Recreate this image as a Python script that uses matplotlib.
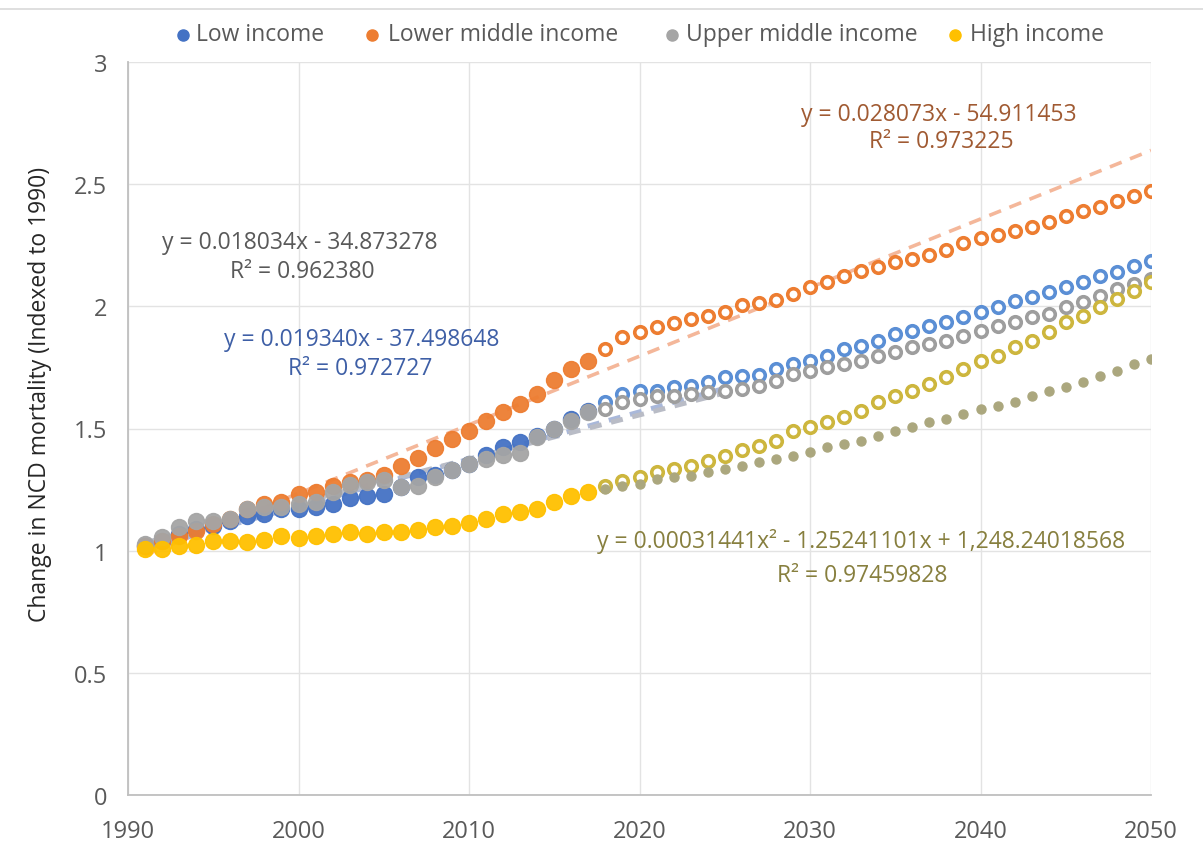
import matplotlib
matplotlib.use("Agg")
import matplotlib.pyplot as plt
from matplotlib.lines import Line2D
import numpy as np

plt.rcParams['font.family'] = ['Open Sans', 'DejaVu Sans']

years_obs = list(range(1991, 2018))
years_proj = list(range(2018, 2051))

low_obs = [1.02, 1.04, 1.07, 1.09, 1.10, 1.12, 1.14, 1.15, 1.17, 1.17, 1.18, 1.19, 1.215, 1.225, 1.23,
           1.26, 1.30, 1.31, 1.33, 1.355, 1.39, 1.425, 1.445, 1.47, 1.50, 1.54, 1.57]
low_proj = [1.61, 1.64, 1.655, 1.655, 1.67, 1.675, 1.69, 1.71, 1.715, 1.72, 1.745, 1.765, 1.777, 1.797,
            1.826, 1.838, 1.858, 1.887, 1.90, 1.92, 1.936, 1.957, 1.977, 1.997, 2.022, 2.04, 2.06, 2.08,
            2.10, 2.125, 2.14, 2.166, 2.186]

lmid_obs = [1.02, 1.04, 1.06, 1.08, 1.11, 1.13, 1.17, 1.19, 1.20, 1.23, 1.24, 1.265, 1.28, 1.29, 1.31,
            1.345, 1.38, 1.42, 1.457, 1.49, 1.53, 1.567, 1.60, 1.64, 1.70, 1.745, 1.777]
lmid_proj = [1.826, 1.875, 1.895, 1.915, 1.93, 1.95, 1.96, 1.977, 2.005, 2.015, 2.025, 2.05, 2.08, 2.10,
             2.125, 2.145, 2.16, 2.18, 2.195, 2.21, 2.23, 2.258, 2.278, 2.292, 2.309, 2.325, 2.345, 2.37,
             2.39, 2.407, 2.43, 2.452, 2.472]

umid_obs = [1.027, 1.056, 1.097, 1.12, 1.12, 1.13, 1.17, 1.18, 1.18, 1.19, 1.20, 1.24, 1.27, 1.28, 1.29,
            1.26, 1.265, 1.30, 1.33, 1.355, 1.375, 1.39, 1.40, 1.465, 1.50, 1.53, 1.567]
umid_proj = [1.58, 1.61, 1.62, 1.635, 1.635, 1.64, 1.65, 1.655, 1.66, 1.675, 1.695, 1.723, 1.736, 1.75,
             1.764, 1.777, 1.797, 1.813, 1.834, 1.846, 1.858, 1.879, 1.90, 1.92, 1.936, 1.957, 1.969,
             1.997, 2.018, 2.043, 2.07, 2.09, 2.11]

high_obs = [1.005, 1.007, 1.02, 1.023, 1.04, 1.04, 1.035, 1.044, 1.06, 1.05, 1.06, 1.068, 1.077, 1.068,
            1.077, 1.077, 1.085, 1.097, 1.10, 1.113, 1.13, 1.15, 1.16, 1.17, 1.20, 1.225, 1.24]
high_proj = [1.265, 1.285, 1.30, 1.32, 1.335, 1.347, 1.367, 1.387, 1.41, 1.43, 1.45, 1.49, 1.506, 1.527,
             1.547, 1.572, 1.609, 1.633, 1.654, 1.682, 1.711, 1.745, 1.777, 1.797, 1.834, 1.858, 1.895,
             1.936, 1.96, 1.997, 2.03, 2.063, 2.10]
high_alt = [1.252, 1.265, 1.273, 1.293, 1.30, 1.306, 1.32, 1.335, 1.347, 1.363, 1.375, 1.388, 1.404,
            1.424, 1.437, 1.449, 1.47, 1.49, 1.506, 1.527, 1.539, 1.56, 1.58, 1.593, 1.609, 1.633, 1.654,
            1.67, 1.69, 1.715, 1.736, 1.764, 1.785]

# linear trend coefficients (slope, intercept) as displayed on chart
trend_lmid = (0.028073, -54.911453)
trend_low = (0.019340, -37.498648)
trend_umid = (0.018034, -34.873278)
trend_range_lmid = [1991, 2050]
trend_range_low_umid = [1991, 2025]

legend_labels = ["Low income", "Lower middle income", "Upper middle income", "High income"]

C_BLUE = "#4472C4"
C_ORANGE = "#ED7D31"
C_GRAY = "#A5A5A5"
C_YELLOW = "#FFC000"

W, H = 1203, 853
fig = plt.figure(figsize=(W/100, H/100), dpi=100)
ax = fig.add_axes([128/W, 1-796/H, (1151-128)/W, (796-63)/H])

# trend lines
tx = np.array(trend_range_lmid, dtype=float)
ax.plot(tx, trend_lmid[0]*tx + trend_lmid[1], ls=(0, (3.5, 2.5)), lw=2.6, color="#F4B79A", zorder=2)
tx2 = np.array(trend_range_low_umid, dtype=float)
ax.plot(tx2, trend_low[0]*tx2 + trend_low[1], ls=(0, (2.5, 2)), lw=3.5, color="#A9B8DA", zorder=2)
ax.plot(tx2, trend_umid[0]*tx2 + trend_umid[1], ls=(0, (2.5, 2)), lw=3.5, color="#B9BCC6", zorder=2)

# observed (filled)
ms = 11.5
ax.plot(years_obs, low_obs, 'o', ms=ms, color=C_BLUE, mec=C_BLUE, alpha=0.95, zorder=3)
ax.plot(years_obs, lmid_obs, 'o', ms=ms, color=C_ORANGE, mec=C_ORANGE, alpha=0.95, zorder=3)
ax.plot(years_obs, umid_obs, 'o', ms=ms, color=C_GRAY, mec=C_GRAY, alpha=0.95, zorder=3)
ax.plot(years_obs, high_obs, 'o', ms=ms, color=C_YELLOW, mec=C_YELLOW, alpha=0.95, zorder=3)

# projected (open)
oms, omew = 8.3, 2.6
ax.plot(years_proj, low_proj, 'o', ms=oms, mfc='white', mec="#5B8FD5", mew=omew, zorder=4)
ax.plot(years_proj, lmid_proj, 'o', ms=oms, mfc='white', mec=C_ORANGE, mew=omew, zorder=4)
ax.plot(years_proj, umid_proj, 'o', ms=oms, mfc='white', mec="#9E9E9E", mew=omew, zorder=4)
ax.plot(years_proj, high_proj, 'o', ms=oms, mfc='white', mec="#CDB63E", mew=omew, zorder=4)
ax.plot(years_proj, high_alt, 'o', ms=6.5, color="#ABA77E", mec="#ABA77E", zorder=4)

ax.set_xlim(1990, 2050)
ax.set_ylim(0, 3)
ax.set_xticks(range(1990, 2051, 10))
ax.set_yticks([0, 0.5, 1, 1.5, 2, 2.5, 3])
ax.set_yticklabels(["0", "0.5", "1", "1.5", "2", "2.5", "3"])
ax.grid(True, color="#E3E3E3", lw=1.0)
ax.set_axisbelow(True)
for s in ["top", "right"]:
    ax.spines[s].set_visible(False)
for s in ["left", "bottom"]:
    ax.spines[s].set_color("#BFBFBF")
    ax.spines[s].set_linewidth(1.3)
ax.tick_params(length=0, labelsize=17, colors="#595959")
ax.tick_params(axis='x', pad=17)
ax.tick_params(axis='y', pad=15)
ax.set_ylabel("Change in NCD mortality (Indexed to 1990)", fontsize=16.5, color="#262626")
ax.yaxis.set_label_coords((52-128)/1023, 0.548)

# equations
fs = 16.5
def px2data(x, y):
    return (1990 + (x-128)/17.05, (796-y)/244.33)

eqs = [
    (939, 115, "y = 0.028073x - 54.911453", "#A05A32"),
    (941, 142, "R² = 0.973225", "#A05A32"),
    (300, 243, "y = 0.018034x - 34.873278", "#595959"),
    (302, 272, "R² = 0.962380", "#595959"),
    (362, 340, "y = 0.019340x - 37.498648", "#3E5FA6"),
    (360, 369, "R² = 0.972727", "#3E5FA6"),
    (861, 541, "y = 0.00031441x² - 1.25241101x + 1,248.24018568", "#877F3E"),
    (862, 576, "R² = 0.97459828", "#877F3E"),
]
for x, y, s, c in eqs:
    fig.text(x/W, 1-y/H, s, ha='center', va='center', fontsize=fs, color=c)

# legend, placed manually
leg_marker_x = [183, 372, 672, 955]
leg_text_x = [196, 388, 686, 970]
for mx, tx_, lab, c in zip(leg_marker_x, leg_text_x, legend_labels, [C_BLUE, C_ORANGE, C_GRAY, C_YELLOW]):
    fig.add_artist(Line2D([mx/W], [1-36/H], marker='o', ms=8, color=c, ls='none', transform=fig.transFigure))
    fig.text(tx_/W, 1-35/H, lab, ha='left', va='center', fontsize=16.5, color="#595959")

fig.add_artist(Line2D([0, 1], [1-10/H, 1-10/H], color="#D9D9D9", lw=1.2, transform=fig.transFigure))

fig.savefig("out.png", dpi=100)
